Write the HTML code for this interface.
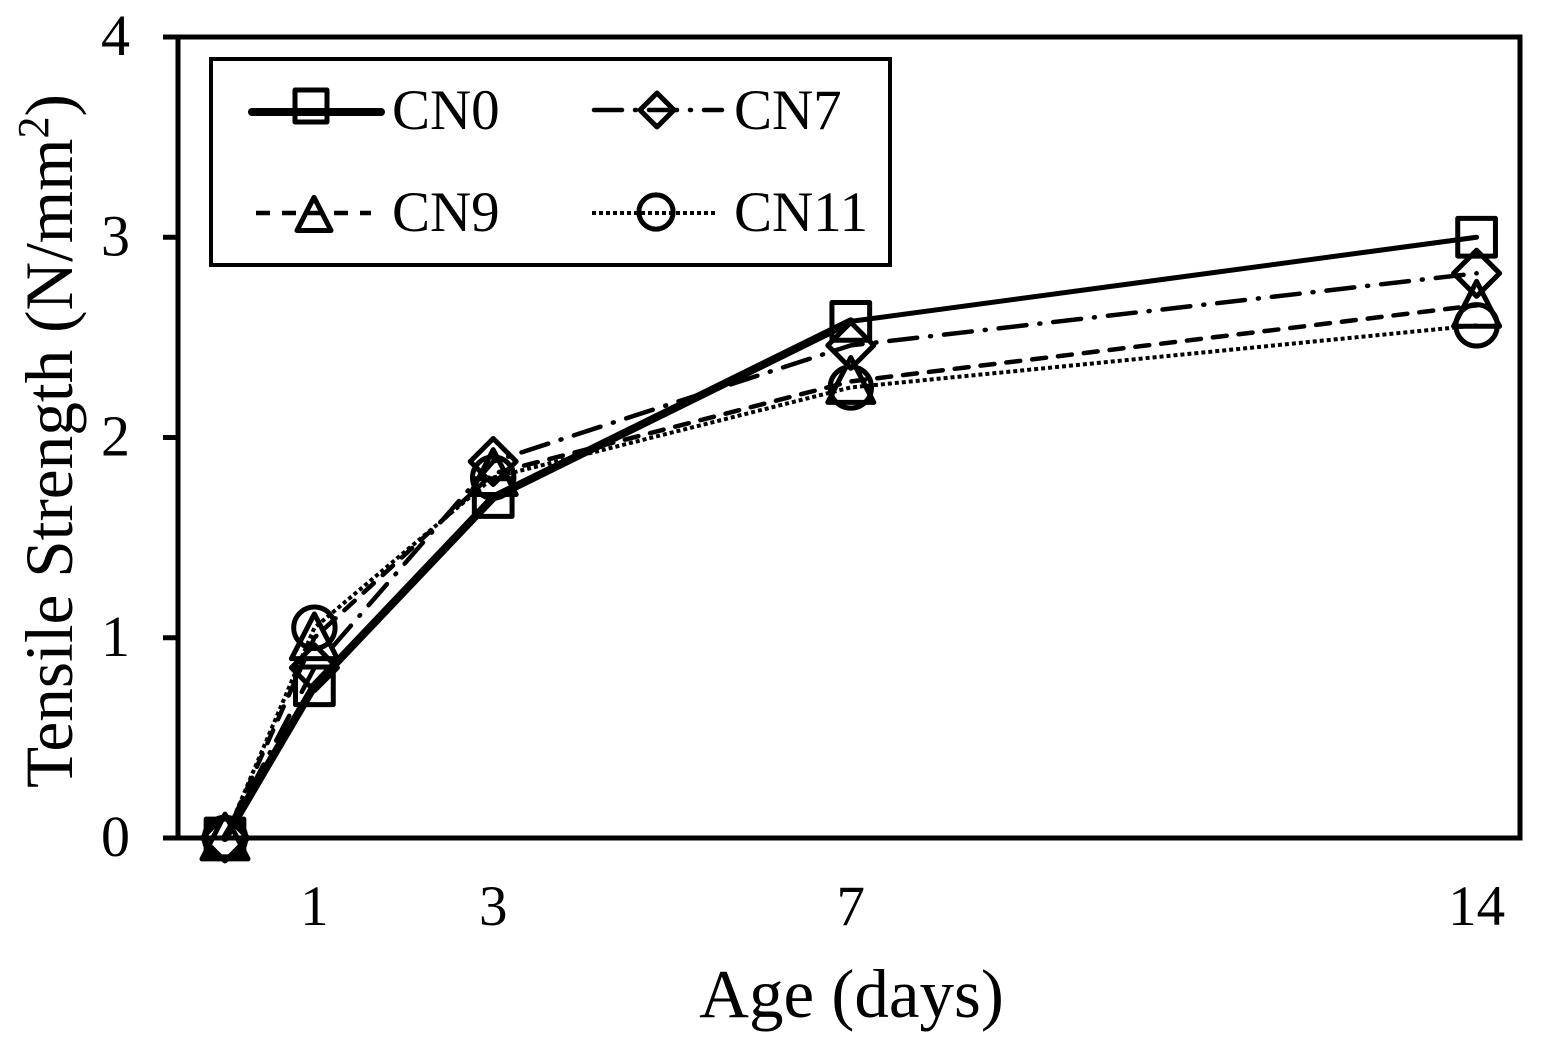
<!DOCTYPE html>
<html lang="en">
<head>
<meta charset="utf-8">
<title>Tensile Strength vs Age</title>
<style>
html,body{margin:0;padding:0;background:#fff;}
svg{display:block;}
text{font-family:"Liberation Serif",serif;fill:#000;}
</style>
</head>
<body>
<svg id="chart" xmlns="http://www.w3.org/2000/svg" width="1545" height="1052" viewBox="0 0 1545 1052">
  <rect x="0" y="0" width="1545" height="1052" fill="#fff"/>
  <rect x="178" y="37" width="1342" height="801" fill="none" stroke="#000" stroke-width="5"/>
  <g id="ticks"></g>
  <g id="series"></g>
  <text x="851.5" y="1017" font-size="69" text-anchor="middle">Age (days)</text>
  <text transform="translate(72,788) rotate(-90)" font-size="67.3">Tensile Strength (N/mm<tspan font-size="44" dy="-24">2</tspan><tspan dy="24">)</tspan></text>
  <g>
    <rect x="211" y="59" width="679" height="206" fill="#fff" stroke="#000" stroke-width="4"/>
    <g id="legend-marks"></g>
    <text x="392" y="129" font-size="57">CN0</text>
    <text x="734" y="129" font-size="57">CN7</text>
    <text x="392" y="231" font-size="57">CN9</text>
    <text x="734" y="231" font-size="57">CN11</text>
  </g>
</svg>
<script>
const ageDays = [0, 1, 3, 7, 14];
const xTickDays = [1, 3, 7, 14];
const yTickValues = [0, 1, 2, 3, 4];
const cn0Values = [0, 0.76, 1.70, 2.58, 3.00];
const cn7Values = [0, 0.85, 1.88, 2.46, 2.82];
const cn9Values = [0, 1.00, 1.82, 2.28, 2.66];
const cn11Values = [0, 1.05, 1.80, 2.25, 2.56];

const NS = 'http://www.w3.org/2000/svg';
const xScale = d => 225 + 89.4 * d;
const yScale = v => 838 - 200.25 * v;
const ticksLayer = document.getElementById('ticks');
const seriesLayer = document.getElementById('series');
const legendLayer = document.getElementById('legend-marks');

function shape(tag, parent, attrs) {
  const el = document.createElementNS(NS, tag);
  for (const k in attrs) el.setAttribute(k, attrs[k]);
  parent.appendChild(el);
  return el;
}

const markerStyle = { fill: 'none', stroke: '#000', 'stroke-width': 5, 'stroke-linejoin': 'round' };

function drawMarker(kind, cx, cy, size, parent) {
  const s = size;
  let el;
  if (kind === 'square') {
    el = shape('rect', parent, Object.assign({ x: cx - s * 0.82, y: cy - s * 0.82, width: s * 1.64, height: s * 1.64 }, markerStyle));
  } else if (kind === 'diamond') {
    el = shape('polygon', parent, Object.assign({ points: `${cx},${cy - s} ${cx + s},${cy} ${cx},${cy + s} ${cx - s},${cy}` }, markerStyle));
  } else if (kind === 'triangle') {
    el = shape('polygon', parent, Object.assign({ points: `${cx},${cy - s * 1.04} ${cx + s},${cy + s * 0.91} ${cx - s},${cy + s * 0.91}` }, markerStyle));
  } else {
    el = shape('circle', parent, Object.assign({ cx: cx, cy: cy, r: s * 0.9 }, markerStyle));
  }
  return el;
}

/* y ticks and labels */
yTickValues.forEach(v => {
  const tick = shape('line', ticksLayer, { x1: 163, x2: 178, y1: yScale(v), y2: yScale(v), stroke: '#000', 'stroke-width': 5 });
  
  
  const label = shape('text', ticksLayer, { x: 130, y: yScale(v) + 18, 'font-size': 58, 'text-anchor': 'end' });
  label.textContent = v;
  
  
});

/* x tick labels */
xTickDays.forEach(d => {
  const label = shape('text', ticksLayer, { x: xScale(d), y: 925, 'font-size': 57, 'text-anchor': 'middle' });
  label.textContent = d;
  
  
});

function drawLine(values, dash, width, cap) {
  const pts = values.map((v, i) => xScale(ageDays[i]) + ',' + yScale(v)).join(' ');
  return shape('polyline', seriesLayer, { points: pts, fill: 'none', stroke: '#000', 'stroke-width': width, 'stroke-dasharray': dash, 'stroke-linecap': cap, 'stroke-linejoin': 'round' });
}

/* CN11 */
const lineCn11 = drawLine(cn11Values, '4 3', 4, 'butt');


/* CN9 */
const lineCn9 = drawLine(cn9Values, '14 12', 4.5, 'round');


/* CN7 */
const lineCn7 = drawLine(cn7Values, '28 13 1 13', 4.5, 'round');


/* CN0: heavier over the early ages, lighter on the final segment */
cn0Values.slice(1).forEach((v, i) => {
  const seg = shape('line', seriesLayer, {
    x1: xScale(ageDays[i]), y1: yScale(cn0Values[i]),
    x2: xScale(ageDays[i + 1]), y2: yScale(v),
    stroke: '#000', 'stroke-width': i < 3 ? 8 : 5, 'stroke-linecap': 'round'
  });
  
  
});

cn0Values.forEach((v, i) => {
  const m = drawMarker('square', xScale(ageDays[i]), yScale(v), 23, seriesLayer);
  
  
});
cn7Values.forEach((v, i) => {
  const m = drawMarker('diamond', xScale(ageDays[i]), yScale(v), 23, seriesLayer);
  
  
});
cn9Values.forEach((v, i) => {
  const m = drawMarker('triangle', xScale(ageDays[i]), yScale(v), 23, seriesLayer);
  
  
});
cn11Values.forEach((v, i) => {
  const m = drawMarker('circle', xScale(ageDays[i]), yScale(v), 23, seriesLayer);
  
  
});

/* legend keys */
const keyCn0 = shape('line', legendLayer, { x1: 252, x2: 381, y1: 112, y2: 112, stroke: '#000', 'stroke-width': 8, 'stroke-linecap': 'round' });


const keyCn0M = drawMarker('square', 311, 106, 19.5, legendLayer);



const keyCn7 = shape('line', legendLayer, { x1: 594, x2: 722, y1: 110, y2: 110, stroke: '#000', 'stroke-width': 4.5, 'stroke-dasharray': '28 13 1 13', 'stroke-linecap': 'round' });


const keyCn7M = drawMarker('diamond', 657, 110, 17, legendLayer);



const keyCn9 = shape('line', legendLayer, { x1: 256, x2: 371, y1: 213, y2: 213, stroke: '#000', 'stroke-width': 4.5, 'stroke-dasharray': '14 12', 'stroke-linecap': 'butt' });


const keyCn9M = drawMarker('triangle', 314, 215, 17, legendLayer);



const keyCn11 = shape('line', legendLayer, { x1: 592, x2: 716, y1: 213, y2: 213, stroke: '#000', 'stroke-width': 4, 'stroke-dasharray': '4 3' });


const keyCn11M = drawMarker('circle', 656, 212, 19, legendLayer);


</script>
</body>
</html>
